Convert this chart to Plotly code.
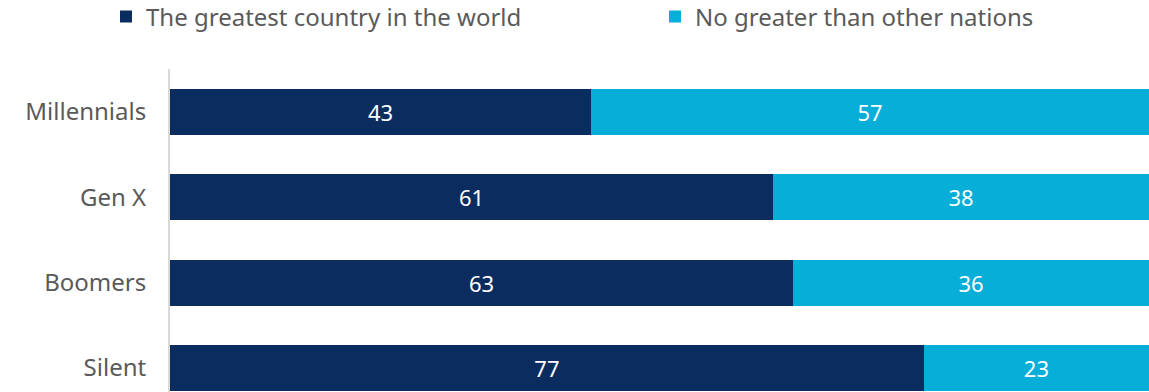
import plotly.graph_objects as go

# Survey results by generation (percent)
generations = ["Millennials", "Gen X", "Boomers", "Silent"]
greatest = [43, 61, 63, 77]
no_greater = [57, 38, 36, 23]

series_names = ["The greatest country in the world", "No greater than other nations"]
series_colors = ["#0B2C5F", "#06AED8"]
legend_ids = ["legend", "legend2"]
legend_x = [106 / 1149, 655 / 1149]

FONT = "Noto Sans"
TEXT_GRAY = "#5A5A5A"

fig = go.Figure()
for name, vals, color, lg in zip(series_names, [greatest, no_greater], series_colors, legend_ids):
    fig.add_trace(go.Bar(
        y=generations,
        x=vals,
        name=name,
        orientation="h",
        legend=lg,
        marker=dict(color=color, line=dict(width=0)),
        text=[str(v) for v in vals],
        textposition="inside",
        insidetextanchor="middle",
        textfont=dict(color="white", size=22, family=FONT),
        hoverinfo="skip",
    ))

legend_common = dict(
    orientation="h",
    xref="container",
    yref="container",
    xanchor="left",
    y=1 - 17 / 392,
    yanchor="middle",
    font=dict(size=24, color=TEXT_GRAY, family=FONT),
    itemwidth=30,
    bgcolor="rgba(0,0,0,0)",
)

fig.update_layout(
    width=1149,
    height=392,
    barmode="stack",
    barnorm="percent",
    bargap=0.46,
    plot_bgcolor="white",
    paper_bgcolor="white",
    margin=dict(l=170, r=0, t=69, b=0, autoexpand=False),
    font=dict(family=FONT, color=TEXT_GRAY, size=24),
    showlegend=True,
    legend=dict(x=legend_x[0], **legend_common),
    legend2=dict(x=legend_x[1], **legend_common),
    uniformtext=dict(minsize=10, mode="show"),
)

fig.update_xaxes(
    range=[0, 100],
    showgrid=False,
    zeroline=False,
    showticklabels=False,
    showline=False,
)
fig.update_yaxes(
    categoryorder="array",
    categoryarray=generations,
    range=[3.28, -0.5],
    showgrid=False,
    zeroline=False,
    showline=True,
    linecolor="#D9D9D9",
    linewidth=2,
    ticks="",
    ticklabelstandoff=17,
    tickfont=dict(size=24, color=TEXT_GRAY, family=FONT),
)

fig.write_html("out.html")
